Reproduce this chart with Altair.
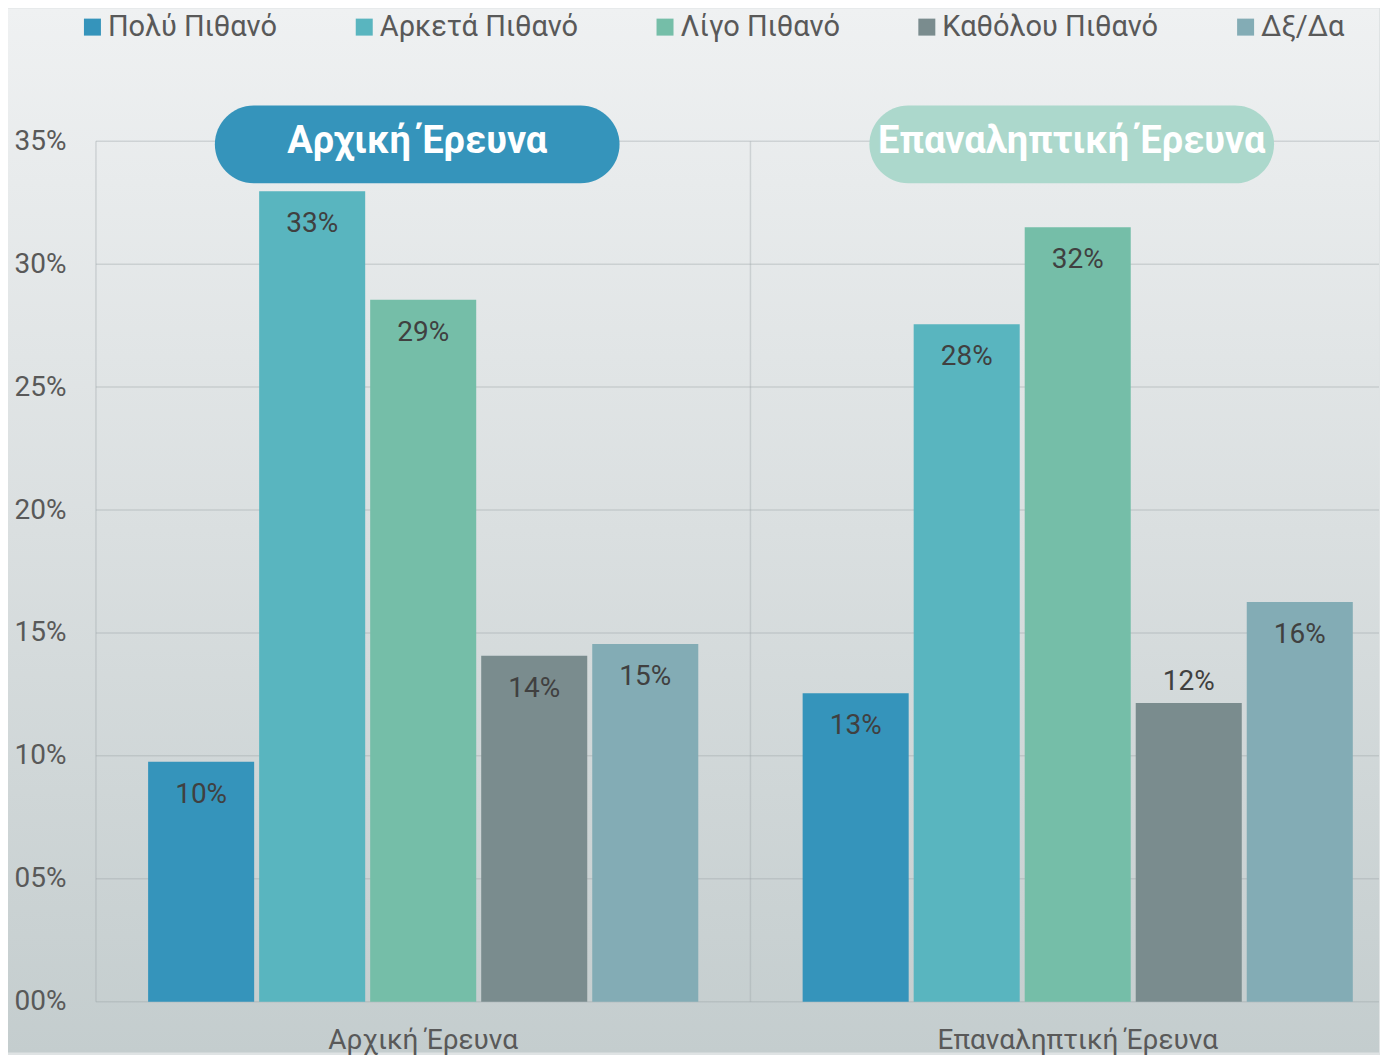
import altair as alt
import pandas as pd

groups = ["Αρχική Έρευνα", "Επαναληπτική Έρευνα"]
categories = ["Πολύ Πιθανό", "Αρκετά Πιθανό", "Λίγο Πιθανό", "Καθόλου Πιθανό", "Δξ/Δα"]
initial_values = [0.0976, 0.3297, 0.2855, 0.1407, 0.1455]
repeat_values = [0.1255, 0.2756, 0.3150, 0.1215, 0.1626]
initial_labels = ["10%", "33%", "29%", "14%", "15%"]
repeat_labels = ["13%", "28%", "32%", "12%", "16%"]
initial_label_inside = [True, True, True, True, True]
repeat_label_inside = [True, True, True, False, True]
colors = ["#3594bb", "#59b5bf", "#75bea8", "#7a8c8e", "#83acb5"]
pill_colors = ["#3594bb", "#acd8cc"]
y_ticks = [0, 0.05, 0.10, 0.15, 0.20, 0.25, 0.30, 0.35]

W = 1284
H = 861
FONT = "Roboto"

rows = []
for g, vals, labs, ins in [
    (groups[0], initial_values, initial_labels, initial_label_inside),
    (groups[1], repeat_values, repeat_labels, repeat_label_inside),
]:
    for c, v, l, i in zip(categories, vals, labs, ins):
        rows.append({"group": g, "category": c, "value": v, "label": l, "inside": i})
df = pd.DataFrame(rows)

pills = pd.DataFrame({"group": groups, "pill_color": pill_colors})
ticks_df = pd.DataFrame({"value": y_ticks})
bg_df = pd.DataFrame({"a": [0]})

x_scale = alt.Scale(domain=groups, range=[0, 1310], paddingInner=0, paddingOuter=0)
x_enc = alt.X("group:N", sort=groups, scale=x_scale, axis=None)
xoff_enc = alt.XOffset(
    "category:N", sort=categories,
    scale=alt.Scale(paddingInner=0.045, paddingOuter=0.47),
)
y_scale = alt.Scale(domain=[0, 0.35], nice=False, zero=True)
y_axis = alt.Axis(
    values=y_ticks, format="03.0%", grid=False, domain=False, ticks=False,
    labelFontSize=28, labelColor="#595959", labelPadding=30, title=None,
    labelFont=FONT, zindex=1,
)
y_enc = alt.Y("value:Q", scale=y_scale, axis=y_axis)

background = alt.Chart(bg_df).mark_rect(
    color=alt.Gradient(
        gradient="linear",
        stops=[
            alt.GradientStop(color="#eff1f2", offset=0),
            alt.GradientStop(color="#dadfe0", offset=0.5),
            alt.GradientStop(color="#c4cdce", offset=1),
        ],
        x1=0, x2=0, y1=0, y2=1,
    )
).encode(
    x=alt.value(-88), x2=alt.value(W), y=alt.value(-133), y2=alt.value(H + 51)
)

hgrid = alt.Chart(ticks_df).mark_rule(color="#9aa2a5", opacity=0.35, strokeWidth=1.5).encode(
    y=y_enc,
    x=alt.value(0),
    x2=alt.value(W),
)

vgrid = alt.Chart(pills).mark_rule(color="#9aa2a5", opacity=0.35, strokeWidth=1.5).encode(
    x=alt.X("group:N", sort=groups, scale=x_scale, axis=None, bandPosition=0),
    y=alt.datum(0),
    y2=alt.datum(0.35),
)

bars = alt.Chart(df).mark_bar().encode(
    x=x_enc,
    xOffset=xoff_enc,
    y=y_enc,
    color=alt.Color(
        "category:N",
        sort=categories,
        scale=alt.Scale(domain=categories, range=colors),
        legend=alt.Legend(
            title=None, orient="none", legendX=-18, legendY=-129,
            direction="horizontal", columns=5, symbolType="square",
            symbolSize=289, symbolStrokeWidth=0, symbolOpacity=1,
            labelFontSize=29, labelColor="#595959", labelLimit=500,
            labelOffset=1, columnPadding=72, labelFont=FONT, zindex=1,
        ),
    ),
)

labels_in = alt.Chart(df).transform_filter("datum.inside").mark_text(
    fontSize=28, color="#404040", baseline="middle", dy=33, font=FONT
).encode(x=x_enc, xOffset=xoff_enc, y=y_enc, text="label:N")

labels_out = alt.Chart(df).transform_filter("!datum.inside").mark_text(
    fontSize=28, color="#404040", baseline="middle", dy=-21, font=FONT
).encode(x=x_enc, xOffset=xoff_enc, y=y_enc, text="label:N")

x_labels = alt.Chart(pills).mark_text(
    fontSize=28, color="#595959", baseline="middle", dy=39, font=FONT
).encode(x=x_enc, y=alt.datum(0), text="group:N")

pill_rect = alt.Chart(pills).mark_bar(width=405, cornerRadius=39, xOffset=-6).encode(
    x=x_enc,
    y=alt.datum(0.3646),
    y2=alt.datum(0.3329),
    color=alt.Color("pill_color:N", scale=None),
)

pill_text = alt.Chart(pills).mark_text(
    fontSize=38, fontWeight="bold", color="white", baseline="middle", font=FONT, xOffset=-6
).encode(
    x=x_enc,
    y=alt.datum(0.3496),
    text="group:N",
)

chart = alt.layer(
    background, hgrid, vgrid, bars, labels_in, labels_out, x_labels, pill_rect, pill_text
).properties(
    width=W, height=H, padding=0
).configure(
    background="#dfe3e4", font=FONT
).configure_view(
    strokeWidth=0
)

chart.save("out.html", embed_options={"renderer": "svg", "actions": False})
